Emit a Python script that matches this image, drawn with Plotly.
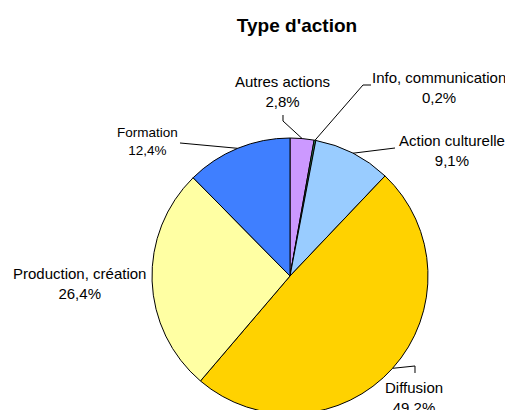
import math
import plotly.graph_objects as go

# ---- data ----
categories = ["Autres actions", "Info, communication", "Action culturelle",
              "Diffusion", "Production, création", "Formation"]
values = [2.8, 0.2, 9.1, 49.2, 26.4, 12.4]
colors = ["#CC99FF", "#339966", "#99CCFF", "#FFD200", "#FFFFA3", "#3F7FFF"]

# page body has an 8px margin; figure sized to fit the window
OFF = 8
W, H = 505, 406
# pie geometry (screen pixels)
CX, CY, R = 290, 276, 138

# label layout (screen pixel centers of text blocks) and leader elbows
label_pos = [(282, 91), (439, 88), (452, 150), (414, 397), (79, 283), (147, 142)]
label_size = [15, 15, 15, 15, 15, 13.5]
elbows = [[(283, 121), (283, 115)],
          [(363, 85), (371, 85)],
          [(395, 148)],
          [(415, 366), (415, 373)],
          None,
          [(180, 143)]]

def px2paper(x, y):
    return (x - OFF) / W, 1 - (y - OFF) / H

fx, fy = CX - OFF, CY - OFF
fig = go.Figure(go.Pie(
    labels=categories, values=values, sort=False, direction="clockwise",
    rotation=0, marker=dict(colors=colors, line=dict(color="black", width=1)),
    textinfo="none", hoverinfo="label+percent", showlegend=False,
    domain=dict(x=[(fx - 142) / W, (fx + 142) / W], y=[0, 2 * R / H]),
))

total = sum(values)
cum = 0
shapes, annotations = [], []
for i, (cat, v) in enumerate(zip(categories, values)):
    mid = (cum + v / 2) / total * 2 * math.pi
    cum += v
    ex, ey = CX + R * math.sin(mid), CY - R * math.cos(mid)
    if elbows[i]:
        pts = [(ex, ey)] + elbows[i]
        path = "M " + " L ".join(
            f"{px2paper(x, y)[0]:.5f},{px2paper(x, y)[1]:.5f}" for x, y in pts)
        shapes.append(dict(type="path", xref="paper", yref="paper", path=path,
                           line=dict(color="black", width=1)))
    lx, ly = px2paper(*label_pos[i])
    txt = f"{cat}<br>{v:.1f}%".replace(".", ",")
    annotations.append(dict(x=lx, y=ly, xref="paper", yref="paper", text=txt,
                            showarrow=False, xanchor="center", yanchor="middle",
                            font=dict(family="Liberation Sans, Arial",
                                      size=label_size[i], color="black")))

tx, ty = px2paper(297, 25)
fig.update_layout(
    width=W, height=H, margin=dict(l=0, r=0, t=0, b=0),
    paper_bgcolor="white", plot_bgcolor="white",
    title=dict(text="<b>Type d'action</b>", x=tx, xanchor="center", y=ty, yanchor="middle",
               font=dict(family="Liberation Sans, Arial", size=19, color="black")),
    shapes=shapes, annotations=annotations,
)
fig.write_html("out.html")
